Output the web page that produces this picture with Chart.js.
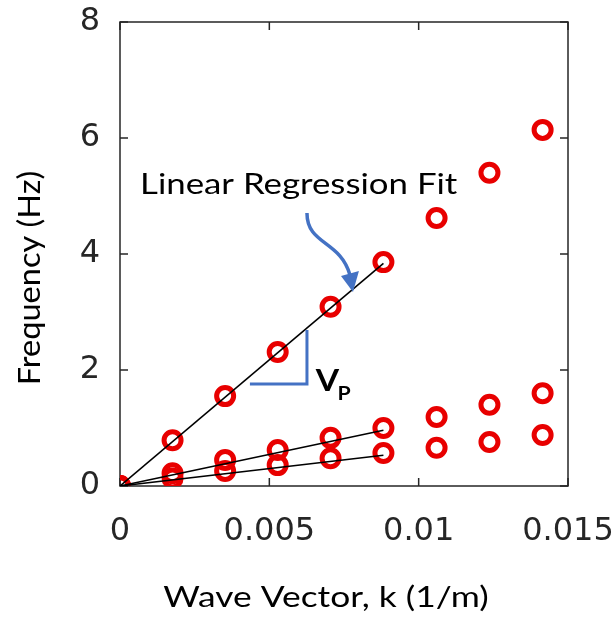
<!DOCTYPE html>
<html lang="en">
<head>
    <meta charset="UTF-8">
    <title>Frequency vs Wave Vector</title>
    <script src="https://cdn.jsdelivr.net/npm/chart.js"></script>
    <style>
        body { margin: 0; background: #fff; }
    </style>
</head>
<body>
    <canvas id="chart" width="616" height="622"></canvas>

    <script>
        // wave vector k (1/m), same for all three branches
        const waveVector = [0, 0.00176, 0.00352, 0.00528, 0.00705, 0.00882, 0.0106, 0.01237, 0.01415];
        // frequencies (Hz)
        const freqUpper  = [0, 0.79, 1.55, 2.31, 3.09, 3.86, 4.62, 5.40, 6.14];
        const freqMiddle = [0, 0.22, 0.45, 0.62, 0.83, 1.00, 1.19, 1.40, 1.60];
        const freqLower  = [0, 0.13, 0.26, 0.36, 0.48, 0.57, 0.66, 0.76, 0.88];

        // end points of the three regression lines
        const fitK = [0, 0.00882];
        const fitUpper  = [0, 3.84];
        const fitMiddle = [0, 0.96];
        const fitLower  = [0, 0.53];

        const xTicks = [0, 0.005, 0.01, 0.015];
        const yTicks = [0, 2, 4, 6, 8];

        const TEXT_FONT = 'Lato';
        const TICK_FONT = 'DejaVu Sans';
        const AXIS_COLOR = '#262626';

        function pts(xs, ys) {
            return xs.map((x, i) => ({ x: x, y: ys[i] }));
        }

        function pointSet(ys) {
            return {
                data: pts(waveVector, ys),
                showLine: false,
                pointRadius: 8.5,
                pointBorderWidth: 5,
                pointBorderColor: 'rgb(232,0,0)',
                pointBackgroundColor: 'rgba(0,0,0,0)',
                pointHoverRadius: 8.5,
                order: 2
            };
        }

        function fitSet(ys) {
            return {
                data: pts(fitK, ys),
                showLine: true,
                borderColor: '#000',
                borderWidth: 1.6,
                pointRadius: 0,
                order: 1
            };
        }

        // text a bit wider than the font gives, like the original figure
        function wideText(ctx, text, x, y, sx) {
            ctx.save();
            ctx.translate(x, y);
            ctx.scale(sx, 1);
            ctx.fillText(text, 0, 0);
            ctx.restore();
        }

        // box with inward ticks on all four sides, plus the annotations
        const figureParts = {
            id: 'figureParts',
            beforeDatasetsDraw(chart) {
                const { ctx, chartArea: a, scales: { x, y } } = chart;
                ctx.save();
                ctx.strokeStyle = AXIS_COLOR;
                ctx.lineWidth = 1.5;
                ctx.strokeRect(a.left, a.top, a.right - a.left, a.bottom - a.top);
                const t = 8;
                ctx.beginPath();
                xTicks.forEach(v => {
                    const px = x.getPixelForValue(v);
                    ctx.moveTo(px, a.bottom); ctx.lineTo(px, a.bottom - t);
                    ctx.moveTo(px, a.top); ctx.lineTo(px, a.top + t);
                });
                yTicks.forEach(v => {
                    const py = y.getPixelForValue(v);
                    ctx.moveTo(a.left, py); ctx.lineTo(a.left + t, py);
                    ctx.moveTo(a.right, py); ctx.lineTo(a.right - t, py);
                });
                ctx.stroke();
                ctx.restore();
            },
            afterDraw(chart) {
                const { ctx, scales: { x, y } } = chart;
                const X = v => x.getPixelForValue(v);
                const Y = v => y.getPixelForValue(v);
                ctx.save();

                // axis titles
                ctx.fillStyle = '#000';
                ctx.font = '29px ' + TEXT_FONT;
                ctx.textAlign = 'center';
                ctx.textBaseline = 'middle';
                wideText(ctx, 'Wave Vector, k (1/m)', 326, 598, 1.22);
                ctx.save();
                ctx.translate(30, 278);
                ctx.rotate(-Math.PI / 2);
                ctx.font = '31px ' + TEXT_FONT;
                wideText(ctx, 'Frequency (Hz)', 0, 0, 1.05);
                ctx.restore();

                // label
                ctx.font = '29px ' + TEXT_FONT;
                ctx.textAlign = 'left';
                wideText(ctx, 'Linear Regression Fit', X(0.00067), Y(5.2), 1.2);

                // curved arrow
                const blue = '#4472C4';
                ctx.strokeStyle = blue;
                ctx.fillStyle = blue;
                ctx.lineWidth = 3.5;
                ctx.beginPath();
                ctx.moveTo(X(0.00626), Y(4.707));
                ctx.bezierCurveTo(X(0.00626), Y(4.155), X(0.00737), Y(4.241), X(0.0077), Y(3.638));
                ctx.stroke();
                ctx.beginPath();
                ctx.moveTo(X(0.0078), Y(3.345));
                ctx.lineTo(X(0.0074), Y(3.621));
                ctx.lineTo(X(0.008), Y(3.707));
                ctx.closePath();
                ctx.fill();

                // slope triangle
                ctx.lineWidth = 3;
                ctx.beginPath();
                ctx.moveTo(X(0.00435), Y(1.759));
                ctx.lineTo(X(0.00626), Y(1.759));
                ctx.lineTo(X(0.00626), Y(2.69));
                ctx.stroke();

                // V_P
                ctx.fillStyle = '#000';
                ctx.textBaseline = 'alphabetic';
                ctx.font = 'bold 30px ' + TEXT_FONT;
                wideText(ctx, 'V', X(0.00655), Y(1.63), 1.12);
                ctx.font = 'bold 19px ' + TEXT_FONT;
                wideText(ctx, 'P', X(0.00728), Y(1.48), 1.12);

                ctx.restore();
            }
        };

        new Chart(document.getElementById('chart'), {
            type: 'scatter',
            data: {
                datasets: [
                    fitSet(fitUpper), fitSet(fitMiddle), fitSet(fitLower),
                    pointSet(freqUpper), pointSet(freqMiddle), pointSet(freqLower)
                ]
            },
            options: {
                responsive: false,
                animation: false,
                layout: { padding: { top: 22, right: 48, left: 0, bottom: 0 } },
                plugins: {
                    legend: { display: false },
                    tooltip: { enabled: false }
                },
                scales: {
                    x: {
                        type: 'linear',
                        min: 0, max: 0.015,
                        afterFit: s => {
                            s.height = 136;
                            s.paddingLeft = 0;
                            s.paddingRight = 0;
                        },
                        afterBuildTicks: s => { s.ticks = xTicks.map(v => ({ value: v })); },
                        grid: { display: false, drawTicks: false },
                        border: { display: false },
                        ticks: {
                            padding: 26,
                            color: AXIS_COLOR,
                            font: { family: TICK_FONT, size: 32 },
                            maxRotation: 0,
                            callback: v => String(+v.toFixed(4))
                        }
                    },
                    y: {
                        type: 'linear',
                        min: 0, max: 8,
                        afterFit: s => {
                            s.width = 120;
                            s.paddingTop = 0;
                            s.paddingBottom = 0;
                        },
                        afterBuildTicks: s => { s.ticks = yTicks.map(v => ({ value: v })); },
                        grid: { display: false, drawTicks: false },
                        border: { display: false },
                        ticks: {
                            padding: 20,
                            color: AXIS_COLOR,
                            font: { family: TICK_FONT, size: 32 }
                        }
                    }
                }
            },
            plugins: [figureParts]
        });
    </script>
</body>
</html>
